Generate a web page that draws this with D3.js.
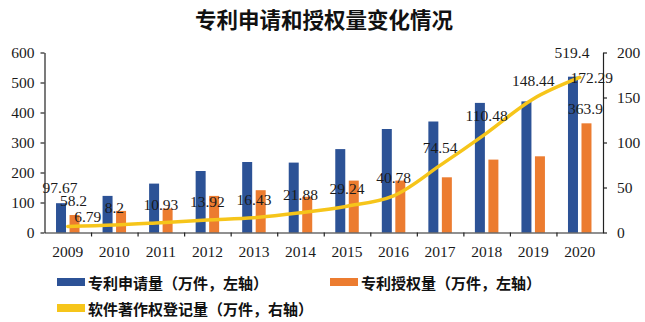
<!DOCTYPE html>
<html>
<head>
<meta charset="utf-8">
<script src="https://cdn.jsdelivr.net/npm/d3@7"></script>
<style>
  html, body { margin: 0; padding: 0; background: #fff; }
  svg { display: block; }
</style>
</head>
<body>
<svg id="chart" width="645" height="322"></svg>
<script>
// Chart data
const years = ["2009","2010","2011","2012","2013","2014","2015","2016","2017","2018","2019","2020"];
const applications = [97.67, 122, 163, 205, 235, 233, 278, 345, 370, 432, 437, 519.4];   // 万件, left axis
const grants = [58.2, 72, 80, 122, 141, 119, 173, 173, 184, 243, 254, 363.9];            // 万件, left axis
const softwareReg = [6.79, 8.2, 10.93, 13.92, 16.43, 21.88, 29.24, 40.78, 74.54, 110.48, 148.44, 172.29]; // 万件, right axis
const leftTicks = [0, 100, 200, 300, 400, 500, 600];
const rightTicks = [0, 50, 100, 150, 200];
const titleText = "专利申请和授权量变化情况";
const legendNames = ["专利申请量（万件，左轴）", "专利授权量（万件，左轴）", "软件著作权登记量（万件，右轴）"];

const colors = { app: "#2c5296", grant: "#ec7c30", line: "#f6c51a" };
const serif = "'Liberation Serif', 'Times New Roman', serif";
const cjk = "'Noto Sans CJK SC', sans-serif";

const svg = d3.select("#chart");
const plot = { left: 44.5, right: 603, top: 52.5, bottom: 232.5 };

const x = d3.scaleBand().domain(years).range([plot.left, plot.right]).padding(0);
const bw = x.bandwidth();
const x1 = d3.scaleBand().domain(["app", "grant"])
  .range([(bw - 23.5) / 2, (bw + 23.5) / 2]).paddingInner(0.26);
const yL = d3.scaleLinear().domain([0, 600]).range([plot.bottom, plot.top]);
const yR = d3.scaleLinear().domain([0, 200]).range([plot.bottom, plot.top]);

// Title
svg.append("text")
  .attr("x", 324).attr("y", 18)
  .attr("text-anchor", "middle").attr("dominant-baseline", "central")
  .style("font-family", cjk).style("font-weight", 700).style("font-size", "21.5px")
  .attr("fill", "#111").text(titleText);

// Bars
const groups = svg.append("g").selectAll("g").data(years).join("g")
  .attr("transform", d => `translate(${x(d)},0)`);
groups.append("rect")
  .attr("x", x1("app")).attr("width", x1.bandwidth())
  .attr("y", (d, i) => yL(applications[i]))
  .attr("height", (d, i) => yL(0) - yL(applications[i]))
  .attr("fill", colors.app);
groups.append("rect")
  .attr("x", x1("grant")).attr("width", x1.bandwidth())
  .attr("y", (d, i) => yL(grants[i]))
  .attr("height", (d, i) => yL(0) - yL(grants[i]))
  .attr("fill", colors.grant);

// Software registration line (right axis)
const cx = d => x(d) + bw / 2;
const line = d3.line()
  .x((d, i) => cx(years[i]))
  .y(d => yR(d))
  .curve(d3.curveCatmullRom.alpha(0.5));
svg.append("path")
  .datum(softwareReg)
  .attr("d", line)
  .attr("fill", "none")
  .attr("stroke", colors.line)
  .attr("stroke-width", 3.5)
  .attr("stroke-linecap", "round");

// Axes
const axisStyle = g => {
  g.selectAll("path, line").attr("stroke", "#222").attr("stroke-width", 1.2);
  g.selectAll("text").style("font-family", serif).style("font-size", "15.5px").attr("fill", "#1a1a1a");
};

svg.append("g").attr("transform", `translate(${plot.left},0)`)
  .call(d3.axisLeft(yL).tickValues(leftTicks).tickSize(4).tickSizeOuter(0).tickPadding(6))
  .call(axisStyle);

svg.append("g").attr("transform", `translate(${plot.right},0)`)
  .call(d3.axisRight(yR).tickValues(rightTicks).tickSize(4).tickSizeOuter(0).tickPadding(10))
  .call(axisStyle);

svg.append("g").attr("transform", `translate(0,${plot.bottom})`)
  .call(d3.axisBottom(x).tickSize(0).tickPadding(13))
  .call(axisStyle);

// Category boundary ticks on the x axis
const boundary = d3.scaleLinear().domain([0, years.length]).range([plot.left, plot.right]);
svg.append("g").attr("transform", `translate(0,${plot.bottom})`)
  .call(d3.axisBottom(boundary).tickValues(d3.range(1, years.length)).tickFormat("").tickSize(4).tickSizeOuter(0))
  .call(g => g.select(".domain").remove())
  .call(axisStyle);

// Data labels
const labelG = svg.append("g")
  .style("font-family", serif).style("font-size", "15.5px").attr("fill", "#1a1a1a");

const fmt = v => String(v);

// line labels: above each point, first one nudged right, last one to the right
softwareReg.forEach((v, i) => {
  const last = i === softwareReg.length - 1;
  let dx = 0, dy = -18;
  if (i === 0) { dx = 20; dy = -10; }
  if (last) { dx = 12; dy = 0; }
  labelG.append("text")
    .attr("x", cx(years[i]) + dx).attr("y", yR(v) + dy)
    .attr("text-anchor", "middle").attr("dominant-baseline", "central")
    .text(fmt(v));
});

// bar labels for the first and last year
[0, years.length - 1].forEach(i => {
  const yr = years[i];
  const appDy = i === 0 ? -16 : -24;
  labelG.append("text")
    .attr("x", x(yr) + x1("app") + x1.bandwidth() / 2 - 1)
    .attr("y", yL(applications[i]) + appDy)
    .attr("text-anchor", "middle").attr("dominant-baseline", "central")
    .text(fmt(applications[i]));
  labelG.append("text")
    .attr("x", x(yr) + x1("grant") + x1.bandwidth() / 2 - 1)
    .attr("y", yL(grants[i]) - 15)
    .attr("text-anchor", "middle").attr("dominant-baseline", "central")
    .text(fmt(grants[i]));
});

// Legend
const legendItems = [
  { name: legendNames[0], color: colors.app, x: 57, y: 282 },
  { name: legendNames[1], color: colors.grant, x: 330, y: 282 },
  { name: legendNames[2], color: colors.line, x: 57, y: 308 }
];
const lg = svg.append("g").selectAll("g").data(legendItems).join("g")
  .attr("transform", d => `translate(${d.x},${d.y})`);
lg.append("rect").attr("x", 0).attr("y", -4).attr("width", 28).attr("height", 8)
  .attr("fill", d => d.color);
lg.append("text").attr("x", 31).attr("y", 0)
  .attr("dominant-baseline", "central")
  .style("font-family", cjk).style("font-weight", 700).style("font-size", "15px")
  .attr("fill", "#111")
  .text(d => d.name);
</script>
</body>
</html>
